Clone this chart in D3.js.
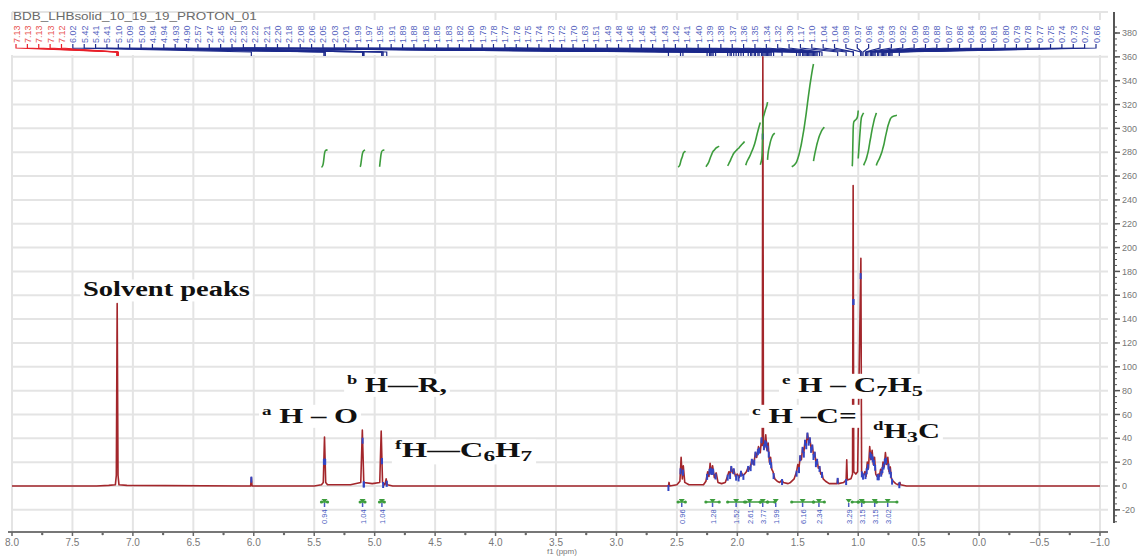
<!DOCTYPE html>
<html>
<head>
<meta charset="utf-8">
<script src="https://cdn.jsdelivr.net/npm/d3@7"></script>
<style>
body { margin: 0; background: #fff; }
svg { display: block; }
</style>
</head>
<body>
<svg id="chart"></svg>
<script>
var title = "BDB_LHBsolid_10_19_19_PROTON_01";

// axis ticks
var ppmTicks = [8.0, 7.5, 7.0, 6.5, 6.0, 5.5, 5.0, 4.5, 4.0, 3.5, 3.0, 2.5, 2.0, 1.5, 1.0, 0.5, 0.0, -0.5, -1.0];
var intensityTicks = [-20, 0, 20, 40, 60, 80, 100, 120, 140, 160, 180, 200, 220, 240, 260, 280, 300, 320, 340, 360, 380];

// spectrum: [ppm, intensity]
var spectrum = [
    [8.0, 0], [7.3, 0], [7.2, 0.5], [7.145, 1], [7.137, 9], [7.13, 153], [7.123, 9], [7.115, 1], [7.05, 0.5],
    [6.1, 0], [6.026, 0], [6.02, 7], [6.014, 0],
    [5.5, 0], [5.44, 1], [5.425, 3], [5.415, 41], [5.405, 3], [5.39, 1],
    [5.2, 1], [5.115, 3], [5.102, 47], [5.09, 3], [5.02, 2],
    [4.958, 3], [4.946, 46], [4.935, 3], [4.915, 1], [4.905, 6], [4.895, 1], [4.85, 0],
    [2.65, 0], [2.57, 0], [2.565, 3], [2.56, 0], [2.5, 1], [2.475, 4], [2.465, 24], [2.455, 6], [2.447, 17], [2.435, 3], [2.4, 1],
    [2.28, 1], [2.26, 4], [2.245, 12], [2.235, 8], [2.225, 19], [2.215, 10], [2.205, 17], [2.19, 7], [2.175, 11], [2.16, 3], [2.13, 2],
    [2.1, 3], [2.085, 7], [2.07, 12], [2.06, 10], [2.05, 16], [2.04, 11], [2.03, 14], [2.015, 8], [2.0, 10], [1.985, 7], [1.97, 12], [1.955, 9], [1.94, 10],
    [1.925, 12], [1.91, 16], [1.895, 14], [1.88, 22], [1.865, 18], [1.85, 28], [1.84, 24], [1.825, 33], [1.81, 28], [1.8, 40], [1.794, 34],
    [1.789, 360], [1.784, 36], [1.775, 32], [1.765, 43], [1.755, 30], [1.745, 36], [1.735, 20], [1.725, 24], [1.715, 14], [1.705, 12], [1.69, 6],
    [1.67, 4], [1.65, 3], [1.63, 5], [1.62, 3], [1.58, 2],
    [1.56, 3], [1.53, 6], [1.51, 12], [1.5, 18], [1.49, 15], [1.48, 25], [1.47, 22], [1.46, 32], [1.45, 28], [1.44, 38], [1.43, 35], [1.42, 44],
    [1.41, 38], [1.4, 40], [1.39, 32], [1.38, 34], [1.37, 26], [1.36, 28], [1.35, 20], [1.34, 22], [1.33, 15], [1.32, 16], [1.31, 10], [1.3, 11],
    [1.29, 6], [1.27, 4], [1.24, 2],
    [1.2, 2], [1.175, 2], [1.17, 6], [1.165, 2], [1.12, 3], [1.1, 5], [1.095, 22], [1.09, 5], [1.06, 6], [1.047, 10], [1.042, 252], [1.037, 12],
    [1.02, 10], [1.005, 12], [0.978, 191], [0.972, 12], [0.965, 10],
    [0.955, 9], [0.945, 12], [0.935, 8], [0.925, 20], [0.915, 15], [0.905, 33], [0.895, 22], [0.885, 30], [0.875, 18], [0.865, 24], [0.855, 10], [0.845, 8],
    [0.835, 10], [0.825, 8], [0.815, 14], [0.805, 10], [0.795, 20], [0.785, 16], [0.775, 28], [0.765, 18], [0.755, 24], [0.745, 12], [0.735, 16],
    [0.725, 6], [0.71, 4], [0.69, 2], [0.67, 1], [0.655, 3], [0.65, 1], [0.6, 0], [-1.0, 0]
];

// picked peaks (top labels); the first ones are the solvent, drawn red
var solventPeaks = [7.13, 7.13, 7.13, 7.13, 7.12];
var samplePeaks = [
    6.02, 5.42, 5.41, 5.41, 5.10, 5.09, 5.09, 4.94, 4.94, 4.93, 4.90,
    2.57, 2.47, 2.45, 2.25, 2.23, 2.22, 2.21, 2.20, 2.18,
    2.08, 2.06, 2.05, 2.03, 2.01, 1.99, 1.97, 1.95,
    1.91, 1.89, 1.88, 1.86, 1.85, 1.83, 1.82, 1.80, 1.79, 1.78, 1.77, 1.76, 1.75, 1.74, 1.73, 1.72, 1.70,
    1.63, 1.51, 1.49, 1.48, 1.46, 1.45, 1.44, 1.43, 1.42, 1.41, 1.40, 1.39, 1.38, 1.37, 1.36, 1.35, 1.34, 1.32, 1.30,
    1.17, 1.10, 1.04, 1.04, 0.98, 0.97,
    0.96, 0.94, 0.93, 0.92, 0.90, 0.89, 0.88, 0.87, 0.86,
    0.84, 0.83, 0.81, 0.80, 0.79, 0.78, 0.77, 0.75, 0.74, 0.73, 0.72, 0.66
];

// integrals: ppm range, rise of the curve (intensity units), printed value
var integralRanges = [
    [5.44, 5.39], [5.12, 5.08], [4.96, 4.92],
    [2.49, 2.43], [2.26, 2.15], [2.08, 1.94], [1.93, 1.81], [1.81, 1.75], [1.75, 1.69],
    [1.55, 1.37], [1.37, 1.28],
    [1.05, 1.0], [1.0, 0.955], [0.955, 0.85], [0.85, 0.68]
];
var integralRise = [15, 15, 15, 14, 18, 22, 38, 55, 29, 87, 34, 48, 46, 46, 44];
var integralValues = ["0.94", "1.04", "1.04", "0.96", "1.28", "1.52", "2.61", "3.77", "1.99", "6.16", "2.34", "3.29", "3.15", "3.15", "3.02"];

// assignment labels: [text, role] with role "sup", "sub" or "" (normal)
var annotations = [
    [["Solvent peaks", ""]],
    [["a", "sup"], [" H \u2013 O", ""]],
    [["b", "sup"], [" H\u2014R,", ""]],
    [["f", "sup"], ["H\u2014C", ""], ["6", "sub"], ["H", ""], ["7", "sub"]],
    [["c", "sup"], [" H \u2013C=", ""]],
    [["e", "sup"], [" H \u2013 C", ""], ["7", "sub"], ["H", ""], ["5", "sub"]],
    [["d", "sup"], ["H", ""], ["3", "sub"], ["C", ""]]
];

var width = 1142;
var height = 556;

var svg = d3.select("#chart").attr("width", width).attr("height", height);
svg.append("rect").attr("width", width).attr("height", height).attr("fill", "#fff");

var x = d3.scaleLinear().domain([8.0, -1.0]).range([12, 1100]);
var y = d3.scaleLinear().domain([0, 380]).range([486, 33]);

var plotLeft = 12, plotRight = 1108, plotTop = 12, axisY = 532, axisX = 1114;

// grid
var grid = svg.append("g").attr("stroke", "#e4e4e4").attr("stroke-width", 2);
grid.selectAll("line.v").data(ppmTicks).enter().append("line")
    .attr("x1", function (d) { return x(d); }).attr("x2", function (d) { return x(d); })
    .attr("y1", plotTop).attr("y2", axisY);
grid.selectAll("line.h").data(intensityTicks.filter(function (d) { return d < 380; })).enter().append("line")
    .attr("x1", plotLeft).attr("x2", plotRight)
    .attr("y1", function (d) { return y(d); }).attr("y2", function (d) { return y(d); });
grid.append("line").attr("x1", plotLeft).attr("x2", plotRight).attr("y1", plotTop).attr("y2", plotTop);

// white band holding the peak labels
svg.append("rect").attr("x", plotLeft - 2).attr("y", 20).attr("width", plotRight - plotLeft + 2).attr("height", 35).attr("fill", "#fff");

svg.append("text").attr("class", "title")
    .attr("font-family", "Arial, 'Liberation Sans', sans-serif").attr("font-size", 10).attr("fill", "#6a6a6a")
    .text(title)
    .each(function () {
        var w = this.getComputedTextLength();
        d3.select(this).attr("transform", "translate(13,20) scale(" + (244 / w) + ",1)");
    });

// spectrum
function specAt(p) {
    for (var i = 0; i < spectrum.length - 1; i++) {
        var a = spectrum[i], b = spectrum[i + 1];
        if (p <= a[0] && p >= b[0]) {
            var t = (a[0] - p) / (a[0] - b[0]);
            return a[1] + t * (b[1] - a[1]);
        }
    }
    return 0;
}

var line = d3.line()
    .x(function (d) { return x(d[0]); })
    .y(function (d) { return y(d[1]); });

svg.append("path").datum(spectrum)
    .attr("d", line)
    .attr("fill", "none")
    .attr("stroke", "#a3262b")
    .attr("stroke-width", 1.6)
    .attr("stroke-linejoin", "round");

// peak markers on the spectrum
var allPeaks = solventPeaks.map(function (p) { return {ppm: p, solvent: true}; })
    .concat(samplePeaks.map(function (p) { return {ppm: p, solvent: false}; }));

svg.append("g").selectAll("line").data(allPeaks.filter(function (d) { return !d.solvent; })).enter().append("line")
    .attr("x1", function (d) { return x(d.ppm); }).attr("x2", function (d) { return x(d.ppm); })
    .attr("y1", function (d) { return y(specAt(d.ppm)) - 1; })
    .attr("y2", function (d) { return y(specAt(d.ppm)) + 5; })
    .attr("stroke", "#3346c4").attr("stroke-width", 2);

// integral curves
var intBase = 267;
var integrals = integralRanges.map(function (r, i) {
    var pts = spectrum.filter(function (d) { return d[0] < r[0] && d[0] > r[1]; });
    pts = [[r[0], specAt(r[0])]].concat(pts).concat([[r[1], specAt(r[1])]]);
    var cum = d3.cumsum(pts, function (d) { return d[1]; });
    var tot = cum[cum.length - 1];
    return {
        range: r,
        value: integralValues[i],
        curve: pts.map(function (d, j) { return [d[0], intBase + integralRise[i] * cum[j] / tot]; })
    };
});

var intLine = d3.line()
    .x(function (d) { return x(d[0]); })
    .y(function (d) { return y(d[1]); })
    .curve(d3.curveBasis);

svg.append("g").selectAll("path").data(integrals).enter().append("path")
    .attr("d", function (d) { return intLine(d.curve); })
    .attr("fill", "none").attr("stroke", "#3c9c3c").attr("stroke-width", 1.6);

// integral brackets + values under the baseline
var brY = 502;
var br = svg.append("g");
br.selectAll("line.br").data(integrals).enter().append("line")
    .attr("x1", function (d) { return x(d.range[0]); }).attr("x2", function (d) { return x(d.range[1]); })
    .attr("y1", brY).attr("y2", brY)
    .attr("stroke", "#3c9c3c").attr("stroke-width", 1.5);
integrals.forEach(function (d) {
    [d.range[0], d.range[1]].forEach(function (p) {
        br.append("circle").attr("cx", x(p)).attr("cy", brY).attr("r", 1.6).attr("fill", "#3c9c3c");
    });
});

// spread the value labels so they do not collide
var labX = integrals.map(function (d) { return (x(d.range[0]) + x(d.range[1])) / 2; });
for (var it = 0; it < 60; it++) {
    for (var k = 0; k < labX.length - 1; k++) {
        var gap = labX[k + 1] - labX[k];
        if (gap < 13) {
            labX[k] -= (13 - gap) / 2;
            labX[k + 1] += (13 - gap) / 2;
        }
    }
}
integrals.forEach(function (d, i) {
    var cx = labX[i];
    br.append("path").attr("d", "M" + (cx - 3) + "," + (brY - 3) + "L" + (cx + 3) + "," + (brY - 3) + "L" + cx + "," + (brY + 1) + "Z")
        .attr("fill", "#3c9c3c");
    br.append("line").attr("x1", cx).attr("x2", cx).attr("y1", brY + 1).attr("y2", brY + 5)
        .attr("stroke", "#4a5cc0").attr("stroke-width", 1.5);
    br.append("text")
        .attr("transform", "translate(" + (cx + 3) + "," + 524 + ") rotate(-90)")
        .attr("font-family", "Arial, sans-serif").attr("font-size", 7.5).attr("fill", "#4a5cc0")
        .text(d.value);
});

// peak labels along the top
var lab = d3.scalePoint().domain(d3.range(allPeaks.length)).range([16, 1096]);
var labelG = svg.append("g");
labelG.selectAll("path").data(allPeaks).enter().append("path")
    .attr("d", function (d, i) {
        var lx = lab(i), px = x(d.ppm);
        return "M" + lx + ",44L" + lx + ",48L" + px + ",52L" + px + ",56";
    })
    .attr("fill", "none")
    .attr("stroke", function (d) { return d.solvent ? "#e8202a" : "#1d2a8c"; })
    .attr("stroke-width", 1.2);
labelG.selectAll("text").data(allPeaks).enter().append("text")
    .attr("transform", function (d, i) { return "translate(" + (lab(i) + 3.5) + ",43) rotate(-90)"; })
    .attr("font-family", "Arial, sans-serif").attr("font-size", 9)
    .attr("fill", function (d) { return d.solvent ? "#e85050" : "#5866c0"; })
    .text(function (d) { return d.ppm.toFixed(2); });

// annotations (bold serif, stretched like the source picture)
var annPlace = [
    {ppm: 7.413, v: 159, w: 167},
    {ppm: 5.932, v: 53, w: 96},
    {ppm: 5.229, v: 79, w: 100},
    {ppm: 4.832, v: 24, w: 138},
    {ppm: 1.879, v: 53, w: 105},
    {ppm: 1.631, v: 79, w: 141},
    {ppm: 0.878, v: 40, w: 67}
];
var shift = {sup: -8, sub: 4, "": 0};
var ann = svg.append("g");
annotations.forEach(function (parts, i) {
    var g = ann.append("g");
    var bg = g.append("rect").attr("fill", "#fff");
    var t = g.append("text")
        .attr("font-family", "'Liberation Serif', 'Times New Roman', serif")
        .attr("font-weight", "bold").attr("font-size", 21).attr("fill", "#111");
    var level = 0;
    parts.forEach(function (p) {
        var target = shift[p[1]];
        var ts = t.append("tspan").attr("dy", target - level).text(p[0]);
        if (p[1] === "sup") ts.attr("font-size", 13);
        if (p[1] === "sub") ts.attr("font-size", 15);
        level = target;
    });
    var bb = t.node().getBBox();
    var s = annPlace[i].w / bb.width;
    bg.attr("x", bb.x - 2).attr("y", bb.y + 2).attr("width", bb.width + 4).attr("height", bb.height - 2);
    g.attr("transform", "translate(" + (x(annPlace[i].ppm) - bb.x * s) + "," + y(annPlace[i].v) + ") scale(" + s + ",1)");
});

// bottom ppm axis
var ax = svg.append("g");
ax.append("line").attr("x1", 8).attr("x2", plotRight).attr("y1", axisY).attr("y2", axisY)
    .attr("stroke", "#777").attr("stroke-width", 2);
ax.selectAll("line.major").data(ppmTicks).enter().append("line")
    .attr("x1", function (d) { return x(d); }).attr("x2", function (d) { return x(d); })
    .attr("y1", axisY).attr("y2", axisY + 4).attr("stroke", "#666").attr("stroke-width", 1.5);
ax.selectAll("circle.minor").data(ppmTicks.slice(1)).enter().append("circle")
    .attr("cx", function (d) { return x(d + 0.25); }).attr("cy", axisY + 2).attr("r", 1.2).attr("fill", "#666");
ax.selectAll("text").data(ppmTicks).enter().append("text")
    .attr("x", function (d) { return x(d); }).attr("y", 546)
    .attr("text-anchor", "middle")
    .attr("font-family", "Arial, sans-serif").attr("font-size", 10).attr("fill", "#777")
    .text(function (d) { return d3.format(".1f")(d); });
ax.append("text").attr("x", (x(8) + x(-1)) / 2 + 6).attr("y", 554)
    .attr("text-anchor", "middle")
    .attr("font-family", "Arial, sans-serif").attr("font-size", 8).attr("fill", "#777")
    .text("f1 (ppm)");

// right intensity axis
var ay = svg.append("g");
ay.append("line").attr("x1", axisX).attr("x2", axisX).attr("y1", plotTop).attr("y2", y(-31))
    .attr("stroke", "#555").attr("stroke-width", 2);
ay.selectAll("line.minor").data(d3.range(-30, 386, 5)).enter().append("line")
    .attr("x1", axisX).attr("x2", axisX + 3)
    .attr("y1", function (d) { return y(d); }).attr("y2", function (d) { return y(d); })
    .attr("stroke", "#555").attr("stroke-width", 1);
ay.selectAll("line.major").data(intensityTicks).enter().append("line")
    .attr("x1", axisX).attr("x2", axisX + 6)
    .attr("y1", function (d) { return y(d); }).attr("y2", function (d) { return y(d); })
    .attr("stroke", "#555").attr("stroke-width", 1.5);
ay.selectAll("text").data(intensityTicks).enter().append("text")
    .attr("x", axisX + 8).attr("y", function (d) { return y(d); }).attr("dy", "0.35em")
    .attr("font-family", "Arial, sans-serif").attr("font-size", 9).attr("fill", "#777")
    .text(function (d) { return d; });
</script>
</body>
</html>
